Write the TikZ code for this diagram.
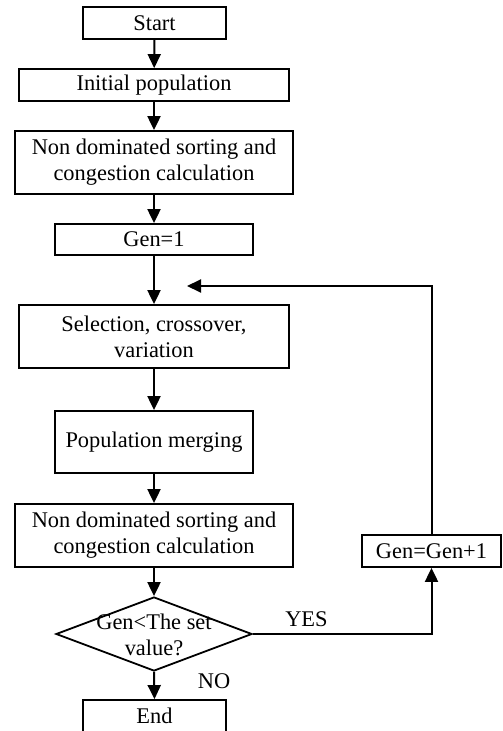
\documentclass[tikz,border=0pt]{standalone}
\usepackage{fontspec}
\setmainfont{Liberation Serif}
\usetikzlibrary{arrows.meta,shapes.geometric,positioning}

\begin{document}
\begin{tikzpicture}[x=0.5pt, y=-0.5pt, >={Triangle[length=7pt,width=6.5pt]},
    every node/.style={font=\fontsize{11.2}{13}\selectfont},
    box/.style={draw, line width=0.9pt, align=center, inner sep=2pt},
    decision/.style={draw, diamond, line width=0.9pt, inner sep=0pt},
    flow/.style={->, line width=1pt}]
    \useasboundingbox (0,0) rectangle (502,731);

    % main column
    \node[box, minimum width=71.5pt, minimum height=16pt] (start) at (154.5,23) {Start};
    \node[box, minimum width=135pt, minimum height=16pt] (init) at (154,85) {Initial population};
    \node[box, minimum width=139pt, minimum height=31.5pt] (sort1) at (154,162.5)
        {Non dominated sorting and\\congestion calculation};
    \node[box, minimum width=99pt, minimum height=15.5pt] (gen1) at (154,239.5) {Gen=1};
    \node[box, minimum width=135pt, minimum height=31.5pt] (select) at (154,336.5)
        {Selection, crossover,\\variation};
    \node[box, minimum width=99pt, minimum height=31pt] (merge) at (154,442) {Population merging};
    \node[box, minimum width=139pt, minimum height=31.5pt] (sort2) at (154,535.5)
        {Non dominated sorting and\\congestion calculation};
    \node[decision, minimum width=98pt, minimum height=37pt] (judge) at (154,634) {};
    \node[align=center, inner sep=0pt] (judgetext) at (154,635) {Gen<The set\\value?};
    \node[box, minimum width=71.5pt, minimum height=16pt] (finish) at (154.5,716) {End};

    % loop back
    \node[box, minimum width=69.5pt, minimum height=16pt] (incr) at (431.5,551) {Gen=Gen+1};
    \coordinate (back) at (187,286);

    \draw[flow] (start) -- (init);
    \draw[flow] (init) -- (sort1);
    \draw[flow] (sort1) -- (gen1);
    \draw[flow] (gen1) -- (select);
    \draw[flow] (select) -- (merge);
    \draw[flow] (merge) -- (sort2);
    \draw[flow] (sort2) -- (judge);
    \draw[flow] (judge.south) -- (finish.north) node[pos=0.35, right=18pt] {NO};
    \draw[flow] (judge.east) -| (incr.south) node[pos=0.15, above] {YES};
    \draw[flow] (incr.north) |- (back);
\end{tikzpicture}
\end{document}
